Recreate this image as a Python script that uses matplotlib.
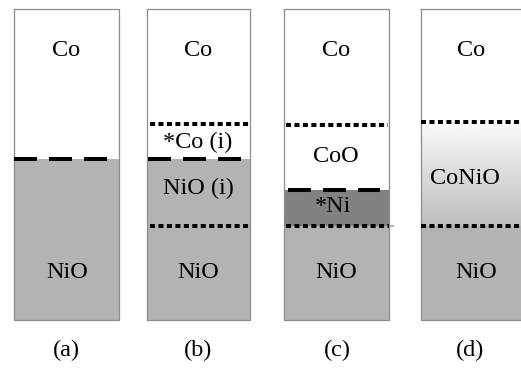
import numpy as np
import matplotlib.pyplot as plt

# panel geometry (pixel coordinates of the reference picture)
panel_left = [14, 147, 284, 421]
panel_right = [119, 250, 389, 524]
top, bottom = 9, 320

# filled layers: (panel, y0, y1, colour)
layers = [(0, 159, 320, '#b3b3b3'),
          (1, 159, 320, '#b3b3b3'),
          (2, 190, 226, '#828282'),
          (2, 226, 320, '#b3b3b3'),
          (3, 226, 320, '#b3b3b3')]
gradient_layer = (3, 122, 226)

# interface lines: (y, x0, x1)
dashed_lines = [(159, 14, 107), (159, 148, 241), (190, 288, 380)]
dotted_lines = [(124, 150, 250), (226, 150, 250),
                (125, 286, 388), (226, 286, 389),
                (122, 421, 521), (226, 421, 521)]

# labels: (x, y, text)
labels = [(66, 51, 'Co'), (67, 272, 'NiO'),
          (198, 51, 'Co'), (198, 142, '*Co (i)'), (198, 188, 'NiO (i)'), (198, 272, 'NiO'),
          (336, 51, 'Co'), (336, 157, 'CoO'), (333, 207, '*Ni'), (336, 272, 'NiO'),
          (471, 51, 'Co'), (465, 178, 'CoNiO'), (476, 272, 'NiO')]
captions = ['(a)', '(b)', '(c)', '(d)']
caption_x = [66, 198, 337, 470]

plt.rcParams['font.family'] = 'serif'
plt.rcParams['font.serif'] = ['Liberation Serif', 'DejaVu Serif']

fig = plt.figure(figsize=(5.21, 3.72), dpi=100)
ax = fig.add_axes([0, 0, 1, 1])
ax.set_xlim(0, 521)
ax.set_ylim(372, 0)
ax.axis('off')

for p, y0, y1, c in layers:
    ax.fill_between([panel_left[p], panel_right[p]], y0, y1, color=c, lw=0, zorder=1)

# CoNiO mixed layer: white fading into grey
p, g0, g1 = gradient_layer
grad = np.linspace(0.98, 0.74, 100).reshape(-1, 1)
ax.imshow(grad, cmap='gray', vmin=0, vmax=1, aspect='auto',
          extent=[panel_left[p], panel_right[p], g1, g0], zorder=1)

for l, r in zip(panel_left, panel_right):
    ax.plot([l, r, r, l, l], [top, top, bottom, bottom, top], color='#8c8c8c', lw=0.9, zorder=3)

ax.plot([389, 393], [226, 226], color='#bbbbbb', lw=1.5, zorder=2)

for y, x0, x1 in dashed_lines:
    ax.plot([x0, x1], [y, y], color='black', lw=2.9, linestyle=(0, (5.7, 3.0)),
            solid_capstyle='butt', dash_capstyle='butt', zorder=4)
for y, x0, x1 in dotted_lines:
    ax.plot([x0, x1], [y, y], color='black', lw=2.9, linestyle=(0, (1.25, 0.85)),
            dash_capstyle='butt', zorder=4)

for x, y, t in labels:
    ax.text(x, y, t, ha='center', va='center', fontsize=17.5, zorder=5)
for x, t in zip(caption_x, captions):
    ax.text(x, 350, t, ha='center', va='center', fontsize=17.5)

fig.savefig('out.png', dpi=100)
